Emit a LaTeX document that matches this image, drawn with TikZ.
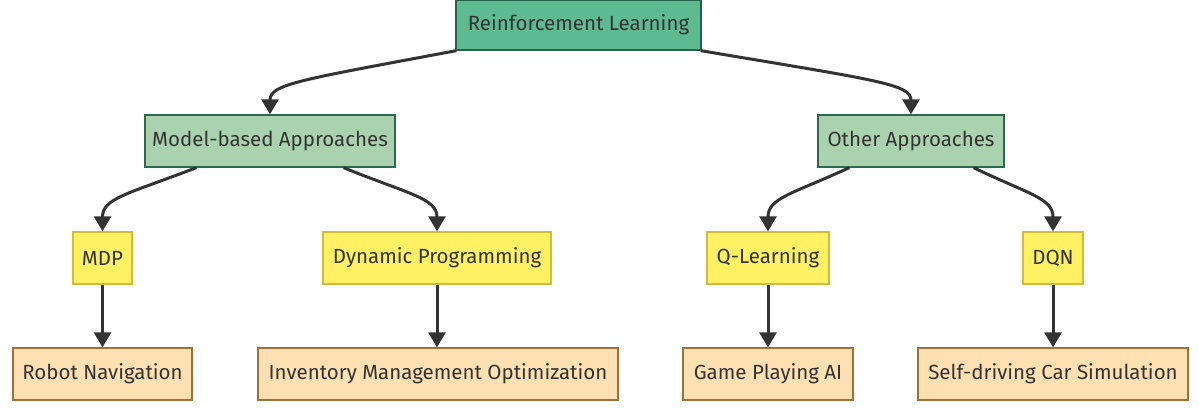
\documentclass[tikz,border=0pt]{standalone}
\usepackage{fontspec}
\setmainfont{Fira Sans}
\usetikzlibrary{arrows.meta}
\definecolor{rootfill}{RGB}{94,187,145}
\definecolor{rootdraw}{RGB}{38,98,74}
\definecolor{midfill}{RGB}{171,210,175}
\definecolor{middraw}{RGB}{46,104,80}
\definecolor{yelfill}{RGB}{255,240,100}
\definecolor{yeldraw}{RGB}{214,186,60}
\definecolor{orfill}{RGB}{255,224,178}
\definecolor{ordraw}{RGB}{160,112,58}
\definecolor{txt}{RGB}{51,51,51}
\tikzset{
  box/.style={draw, line width=1.3pt, inner sep=0pt, text=txt, font=\fontsize{20.5}{24}\selectfont, anchor=center},
  root/.style={box, fill=rootfill, draw=rootdraw},
  mid/.style={box, fill=midfill, draw=middraw},
  yel/.style={box, fill=yelfill, draw=yeldraw},
  ora/.style={box, fill=orfill, draw=ordraw},
  conn/.style={draw=txt, line width=3pt, -{Triangle[length=15pt,width=17pt]}},
}
\begin{document}
\begin{tikzpicture}[x=1pt,y=-1pt]
\useasboundingbox (0,0) rectangle (1199,407);
\node[root, minimum width=245pt, minimum height=50pt] (rl) at (578.5,25) {Reinforcement Learning};
\node[mid, minimum width=250pt, minimum height=52pt] (mb) at (270,141) {Model-based Approaches};
\node[mid, minimum width=186pt, minimum height=52pt] (oa) at (911,141) {Other Approaches};
\node[yel, minimum width=59pt, minimum height=52pt] (mdp) at (102.5,258) {MDP};
\node[yel, minimum width=228pt, minimum height=52pt] (dp) at (437,258) {Dynamic Programming};
\node[yel, minimum width=122pt, minimum height=52pt] (ql) at (768,258) {Q-Learning};
\node[yel, minimum width=60pt, minimum height=52pt] (dqn) at (1053,258) {DQN};
\node[ora, minimum width=179pt, minimum height=52pt] (rn) at (102.5,374) {Robot Navigation};
\node[ora, minimum width=360pt, minimum height=52pt] (im) at (438,374) {Inventory Management Optimization};
\node[ora, minimum width=170pt, minimum height=52pt] (gp) at (768,374) {Game Playing AI};
\node[ora, minimum width=270pt, minimum height=52pt] (sd) at (1053,374) {Self-driving Car Simulation};

\draw[conn] ([xshift=1pt]rl.south west) .. controls (300,80) and (270,84) .. (mb.north);
\draw[conn] ([xshift=-1pt]rl.south east) .. controls (875,80) and (911,84) .. (oa.north);
\draw[conn] ([xshift=52pt]mb.south west) .. controls (128,194) and (102.5,198) .. (mdp.north);
\draw[conn] ([xshift=-52pt]mb.south east) .. controls (408,194) and (437,198) .. (dp.north);
\draw[conn] ([xshift=32pt]oa.south west) .. controls (792,194) and (768,198) .. (ql.north);
\draw[conn] ([xshift=-31pt]oa.south east) .. controls (1028,194) and (1053,198) .. (dqn.north);
\draw[conn] (mdp) -- (rn);
\draw[conn] (dp.south) -- (im.north -| dp.south);
\draw[conn] (ql) -- (gp);
\draw[conn] (dqn) -- (sd);
\end{tikzpicture}
\end{document}
